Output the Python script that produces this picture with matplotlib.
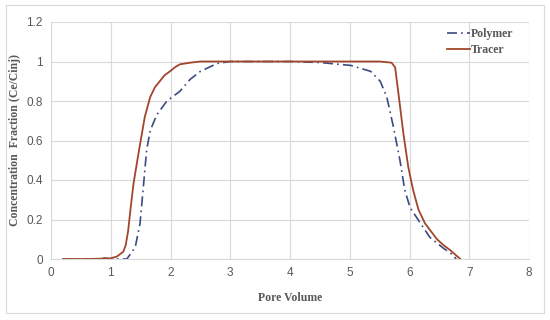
import matplotlib
matplotlib.use("Agg")
import matplotlib.pyplot as plt
from matplotlib.patches import Rectangle

# Data
tracer_x = [0.2, 0.6, 0.99, 1.1, 1.21, 1.25, 1.29, 1.33, 1.38, 1.44, 1.49, 1.57, 1.66, 1.74, 1.82, 1.9,
            1.99, 2.08, 2.16, 2.33, 2.5, 3.0, 4.0, 5.0, 5.5, 5.7, 5.76, 5.81, 5.9, 5.98, 6.06,
            6.15, 6.26, 6.36, 6.46, 6.57, 6.68, 6.85]
tracer_y = [0.0, 0.0, 0.003, 0.012, 0.037, 0.07, 0.14, 0.25, 0.38, 0.49, 0.58, 0.72, 0.82, 0.87, 0.90, 0.93,
            0.95, 0.972, 0.986, 0.994, 1.0, 1.0, 1.0, 1.0, 1.0, 0.994, 0.97, 0.85, 0.63, 0.465, 0.35,
            0.25, 0.18, 0.14, 0.10, 0.07, 0.045, 0.0]

polymer_x = [0.2, 0.8, 0.9, 1.0, 1.27, 1.41, 1.49, 1.55, 1.6, 1.66, 1.77, 1.94, 2.16, 2.33, 2.5,
             2.78, 3.0, 3.5, 4.0, 4.5, 5.02, 5.35, 5.51, 5.62, 5.73, 5.84, 5.92, 6.01, 6.12,
             6.34, 6.57, 6.73, 6.78]
polymer_y = [0.0, 0.0, 0.005, 0.0, 0.0, 0.06, 0.18, 0.38, 0.55, 0.65, 0.73, 0.80, 0.85, 0.91, 0.95,
             0.99, 1.0, 1.0, 1.0, 0.995, 0.98, 0.95, 0.90, 0.82, 0.67, 0.50, 0.35, 0.26, 0.21,
             0.11, 0.054, 0.02, 0.0]

x_ticks = [0, 1, 2, 3, 4, 5, 6, 7, 8]
y_ticks = [0, 0.2, 0.4, 0.6, 0.8, 1.0, 1.2]
y_tick_labels = ["0", "0.2", "0.4", "0.6", "0.8", "1", "1.2"]

fig = plt.figure(figsize=(5.5, 3.2), dpi=100)
fig.patch.set_facecolor("white")
fig.patches.append(Rectangle((6/550, 1-313/320), 538/550, 308/320, transform=fig.transFigure,
                             fill=False, edgecolor="#d9d9d9", linewidth=0.8))

ax = fig.add_axes([51/550, 1-259/320, 478/550, 237/320])
ax.plot(polymer_x, polymer_y, color="#3c4a80", linestyle=(0, (6, 2.5, 1, 2.5)), linewidth=1.2,
        label="Polymer")
ax.plot(tracer_x, tracer_y, color="#a3452a", linestyle="-", linewidth=1.3, label="Tracer")

ax.set_xlim(0, 8)
ax.set_ylim(0, 1.2)
ax.set_xticks(x_ticks)
ax.set_yticks(y_ticks)
ax.set_yticklabels(y_tick_labels)
ax.grid(True, color="#d9d9d9", linewidth=0.8)
ax.set_axisbelow(True)
for s in ["top", "right", "left"]:
    ax.spines[s].set_visible(False)
ax.spines["bottom"].set_color("#d9d9d9")
ax.tick_params(length=0, labelsize=8.5, labelcolor="#595959", pad=6)
for lbl in ax.get_xticklabels() + ax.get_yticklabels():
    lbl.set_fontfamily("Liberation Sans")

ax.set_xlabel("Pore Volume", fontfamily="Liberation Serif", fontweight="bold", fontsize=8.5,
              color="#595959", labelpad=9)
ax.set_ylabel("Concentration  Fraction (Ce/Cinj)", fontfamily="Liberation Serif",
              fontweight="bold", fontsize=8.5, color="#595959", labelpad=4)

leg = ax.legend(loc="upper right", bbox_to_anchor=(0.99, 1.018), frameon=False, handlelength=1.9,
                handletextpad=0.1, labelspacing=0.3,
                prop={"family": "Liberation Serif", "weight": "bold", "size": 8.5})
for t in leg.get_texts():
    t.set_color("#595959")

fig.savefig("out.png", dpi=100)
